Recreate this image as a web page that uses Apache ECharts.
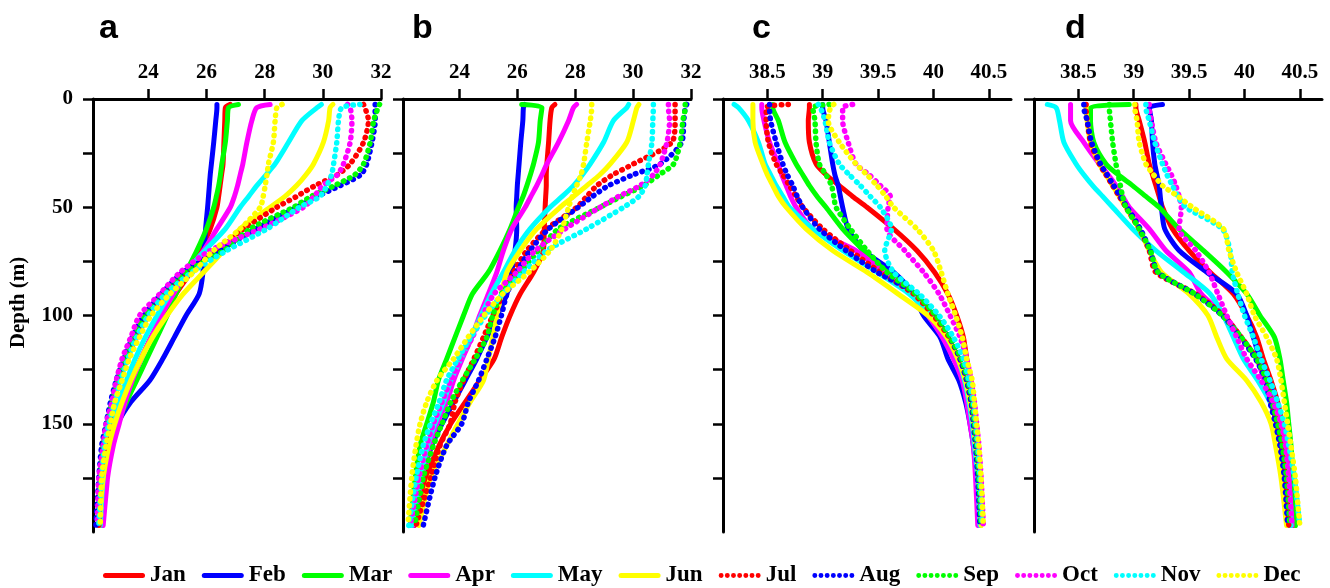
<!DOCTYPE html>
<html>
<head>
<meta charset="utf-8">
<script src="https://cdn.jsdelivr.net/npm/echarts@6.0.0/dist/echarts.min.js"></script>
<style>
  html, body { margin: 0; padding: 0; background: #fff; }
  #chart { width: 1330px; height: 588px; }
</style>
</head>
<body>
<div id="chart"></div>
<script>
// depth levels (m), the first one is the surface point
var depths = [2.5, 4, 10, 20, 30, 35, 40, 45, 50, 60, 70, 80, 90, 100, 110, 120, 130, 140, 150, 160, 175, 197];
var months = ['Jan', 'Feb', 'Mar', 'Apr', 'May', 'Jun', 'Jul', 'Aug', 'Sep', 'Oct', 'Nov', 'Dec'];
var colors = ['#ff0000', '#0000ff', '#00ff00', '#ff00ff', '#00ffff', '#ffff00'];
var tempTicks = [24, 26, 28, 30, 32];
var salTicks = [38.5, 39, 39.5, 40, 40.5];
var depthTicks = [0, 25, 50, 75, 100, 125, 150, 175];
var depthLabels = [0, 50, 100, 150];

// panel a - temperature, one row per month
var panelA = [
    [26.82, 26.65, 26.63, 26.6, 26.57, 26.52, 26.47, 26.42, 26.36, 26.13, 25.8, 25.45, 24.95, 24.5, 24.1, 23.75, 23.4, 23.1, 22.9, 22.7, 22.5, 22.35],
    [26.36, 26.36, 26.32, 26.25, 26.17, 26.13, 26.1, 26.07, 26.04, 25.97, 25.92, 25.88, 25.75, 25.3, 24.9, 24.5, 24.05, 23.4, 22.95, 22.75, 22.55, 22.4],
    [27.1, 26.76, 26.72, 26.65, 26.53, 26.48, 26.42, 26.34, 26.25, 26.0, 25.67, 25.3, 24.95, 24.65, 24.3, 23.95, 23.6, 23.25, 22.95, 22.75, 22.5, 22.35],
    [28.19, 27.73, 27.56, 27.39, 27.25, 27.16, 27.07, 26.96, 26.82, 26.36, 25.9, 25.33, 24.87, 24.45, 24.1, 23.75, 23.45, 23.2, 23.0, 22.8, 22.6, 22.45],
    [29.95, 29.8, 29.28, 28.82, 28.36, 28.05, 27.73, 27.45, 27.16, 26.65, 25.95, 25.3, 24.75, 24.3, 23.9, 23.55, 23.25, 23.0, 22.8, 22.6, 22.45, 22.35],
    [30.35, 30.25, 30.2, 30.02, 29.68, 29.42, 29.1, 28.7, 28.19, 27.16, 26.59, 25.9, 25.2, 24.64, 24.15, 23.75, 23.4, 23.1, 22.85, 22.65, 22.45, 22.3],
    [31.4, 31.45, 31.57, 31.4, 30.94, 30.5, 29.74, 29.1, 28.42, 27.28, 26.36, 25.3, 24.6, 24.0, 23.6, 23.25, 23.0, 22.8, 22.65, 22.5, 22.35, 22.3],
    [31.8, 31.8, 31.8, 31.69, 31.51, 31.3, 30.6, 29.8, 29.1, 27.7, 26.5, 25.2, 24.45, 23.85, 23.45, 23.15, 22.9, 22.7, 22.55, 22.4, 22.3, 22.2],
    [31.95, 31.9, 31.75, 31.63, 31.4, 31.1, 30.4, 29.6, 28.99, 27.5, 26.6, 25.3, 24.5, 23.9, 23.5, 23.2, 22.95, 22.75, 22.6, 22.45, 22.35, 22.3],
    [30.85, 30.94, 31.0, 30.94, 30.71, 30.5, 30.0, 29.7, 29.34, 27.85, 26.13, 25.1, 24.4, 23.7, 23.4, 23.1, 22.9, 22.75, 22.55, 22.45, 22.3, 22.25],
    [31.28, 30.65, 30.54, 30.48, 30.37, 30.3, 30.14, 29.9, 29.2, 28.08, 26.7, 25.5, 24.6, 24.0, 23.6, 23.3, 23.05, 22.85, 22.65, 22.5, 22.4, 22.3],
    [28.6, 28.42, 28.36, 28.3, 28.13, 28.08, 28.02, 27.95, 27.85, 27.16, 26.24, 25.56, 24.75, 24.1, 23.7, 23.35, 23.1, 22.85, 22.7, 22.55, 22.4, 22.35]
];

// panel b - temperature
var panelB = [
    [27.3, 27.19, 27.13, 27.08, 27.02, 27.0, 27.0, 26.98, 26.96, 26.93, 26.9, 26.56, 26.1, 25.75, 25.46, 25.2, 24.7, 24.2, 23.7, 23.3, 22.85, 22.45],
    [26.25, 26.21, 26.19, 26.12, 26.06, 26.03, 26.0, 25.98, 25.96, 25.98, 25.92, 25.8, 25.64, 25.3, 24.95, 24.6, 24.2, 23.8, 23.4, 23.05, 22.7, 22.4],
    [26.15, 26.85, 26.79, 26.73, 26.56, 26.45, 26.33, 26.2, 26.04, 25.75, 25.4, 25.0, 24.45, 24.14, 23.85, 23.56, 23.27, 23.1, 22.87, 22.64, 22.47, 22.3],
    [28.05, 27.94, 27.77, 27.42, 27.02, 26.85, 26.67, 26.47, 26.27, 25.81, 25.52, 25.29, 25.0, 24.7, 24.43, 24.1, 23.8, 23.56, 23.22, 22.99, 22.7, 22.4],
    [29.85, 29.78, 29.32, 28.98, 28.52, 28.25, 27.94, 27.55, 27.13, 26.44, 25.92, 25.52, 25.1, 24.75, 24.4, 24.05, 23.7, 23.45, 23.15, 22.9, 22.65, 22.35],
    [30.2, 30.13, 30.01, 29.78, 29.21, 28.85, 28.4, 27.95, 27.48, 26.67, 26.1, 25.64, 25.45, 25.3, 25.15, 25.0, 24.83, 24.37, 23.95, 23.56, 23.0, 22.6],
    [31.45, 31.45, 31.45, 31.34, 30.01, 29.3, 28.75, 28.4, 28.06, 27.02, 26.33, 25.87, 25.52, 25.15, 24.83, 24.5, 24.14, 23.85, 23.68, 23.33, 23.0, 22.5],
    [31.85, 31.8, 31.75, 31.68, 30.94, 30.0, 29.15, 28.6, 28.11, 27.08, 26.44, 25.98, 25.64, 25.45, 25.23, 24.95, 24.66, 24.31, 24.08, 23.56, 23.15, 22.75],
    [31.8, 31.8, 31.72, 31.63, 31.4, 30.9, 30.36, 29.6, 28.86, 27.42, 26.73, 26.1, 25.45, 25.15, 24.95, 24.55, 24.1, 23.7, 23.4, 23.1, 22.75, 22.45],
    [31.22, 31.22, 31.26, 31.17, 30.94, 30.7, 30.24, 29.5, 28.86, 27.65, 26.62, 25.98, 25.2, 24.8, 24.45, 24.05, 23.7, 23.4, 23.1, 22.87, 22.6, 22.3],
    [30.7, 30.7, 30.68, 30.65, 30.53, 30.48, 30.42, 30.2, 29.67, 28.4, 27.02, 26.21, 25.5, 24.9, 24.4, 23.95, 23.55, 23.3, 23.0, 22.75, 22.5, 22.25],
    [28.57, 28.57, 28.52, 28.4, 28.29, 28.2, 28.05, 27.9, 27.77, 27.54, 27.13, 26.4, 25.5, 24.85, 24.3, 23.8, 23.22, 22.87, 22.64, 22.5, 22.35, 22.22]
];

// panel c - salinity
var panelC = [
    [38.88, 38.88, 38.87, 38.88, 38.94, 39.03, 39.15, 39.27, 39.4, 39.64, 39.85, 40.01, 40.13, 40.21, 40.27, 40.3, 40.33, 40.35, 40.36, 40.38, 40.4, 40.42],
    [39.0, 39.0, 39.03, 39.06, 39.09, 39.11, 39.14, 39.16, 39.18, 39.23, 39.37, 39.64, 39.82, 39.91, 40.06, 40.13, 40.23, 40.29, 40.33, 40.36, 40.39, 40.41],
    [38.55, 38.55, 38.6, 38.66, 38.76, 38.82, 38.88, 38.95, 39.03, 39.18, 39.37, 39.58, 39.83, 40.0, 40.13, 40.22, 40.28, 40.32, 40.35, 40.37, 40.4, 40.42],
    [38.45, 38.45, 38.47, 38.52, 38.6, 38.63, 38.67, 38.71, 38.76, 38.91, 39.3, 39.55, 39.8, 39.95, 40.08, 40.18, 40.26, 40.3, 40.33, 40.36, 40.38, 40.4],
    [38.2, 38.24, 38.33, 38.42, 38.48, 38.53, 38.58, 38.64, 38.7, 38.91, 39.18, 39.49, 39.78, 39.97, 40.12, 40.22, 40.28, 40.32, 40.35, 40.37, 40.4, 40.42],
    [38.37, 38.37, 38.37, 38.39, 38.46, 38.5, 38.55, 38.6, 38.67, 38.85, 39.09, 39.4, 39.68, 39.95, 40.12, 40.22, 40.29, 40.33, 40.36, 40.38, 40.41, 40.43],
    [38.69, 38.49, 38.49, 38.51, 38.58, 38.64, 38.7, 38.76, 38.82, 39.0, 39.25, 39.52, 39.82, 40.0, 40.14, 40.24, 40.3, 40.34, 40.37, 40.39, 40.41, 40.43],
    [38.52, 38.52, 38.53, 38.58, 38.64, 38.68, 38.73, 38.77, 38.82, 38.97, 39.21, 39.49, 39.85, 40.03, 40.15, 40.24, 40.3, 40.34, 40.36, 40.38, 40.4, 40.42],
    [39.06, 38.91, 38.93, 38.94, 38.97, 39.03, 39.08, 39.1, 39.12, 39.25, 39.4, 39.58, 39.84, 40.02, 40.15, 40.25, 40.31, 40.35, 40.37, 40.39, 40.41, 40.43],
    [39.27, 39.18, 39.18, 39.23, 39.3, 39.42, 39.52, 39.61, 39.59, 39.58, 39.74, 39.91, 40.05, 40.15, 40.24, 40.3, 40.34, 40.37, 40.39, 40.41, 40.43, 40.45],
    [38.96, 38.98, 39.02, 39.06, 39.15, 39.24, 39.34, 39.43, 39.52, 39.62, 39.56, 39.64, 39.87, 40.05, 40.18, 40.27, 40.32, 40.36, 40.38, 40.4, 40.42, 40.44],
    [39.1, 39.07, 39.05, 39.15, 39.3, 39.4, 39.49, 39.57, 39.64, 39.85, 40.0, 40.07, 40.13, 40.2, 40.26, 40.3, 40.35, 40.37, 40.39, 40.41, 40.43, 40.45]
];

// panel d - salinity
var panelD = [
    [39.02, 39.02, 39.05, 39.1, 39.14, 39.17, 39.2, 39.23, 39.26, 39.35, 39.5, 39.69, 39.9, 40.02, 40.11, 40.17, 40.24, 40.3, 40.34, 40.37, 40.41, 40.44],
    [39.26, 39.14, 39.16, 39.17, 39.19, 39.21, 39.23, 39.24, 39.25, 39.28, 39.41, 39.66, 39.93, 40.02, 40.08, 40.14, 40.22, 40.28, 40.32, 40.35, 40.38, 40.41],
    [38.96, 38.61, 38.61, 38.64, 38.75, 38.86, 38.99, 39.11, 39.23, 39.41, 39.63, 39.84, 40.02, 40.14, 40.27, 40.32, 40.35, 40.38, 40.4, 40.42, 40.44, 40.46],
    [38.43, 38.43, 38.43, 38.55, 38.69, 38.77, 38.84, 38.9, 38.96, 39.14, 39.29, 39.5, 39.61, 39.82, 39.97, 40.11, 40.18, 40.27, 40.33, 40.37, 40.4, 40.43],
    [38.22, 38.3, 38.33, 38.37, 38.48, 38.55, 38.63, 38.72, 38.81, 38.99, 39.2, 39.45, 39.69, 39.81, 39.9, 39.99, 40.12, 40.23, 40.29, 40.33, 40.38, 40.42],
    [38.57, 38.57, 38.58, 38.61, 38.69, 38.75, 38.81, 38.87, 38.93, 39.05, 39.14, 39.25, 39.5, 39.67, 39.75, 39.84, 40.02, 40.15, 40.24, 40.28, 40.33, 40.38],
    [38.57, 38.57, 38.58, 38.61, 38.69, 38.75, 38.81, 38.87, 38.93, 39.05, 39.14, 39.2, 39.56, 39.81, 39.97, 40.11, 40.2, 40.24, 40.29, 40.33, 40.37, 40.4],
    [38.55, 38.55, 38.58, 38.62, 38.7, 38.76, 38.82, 38.88, 38.94, 39.06, 39.15, 39.22, 39.55, 39.8, 39.96, 40.1, 40.19, 40.23, 40.28, 40.32, 40.36, 40.39],
    [38.78, 38.78, 38.79, 38.81, 38.84, 38.86, 38.88, 38.9, 38.93, 39.05, 39.15, 39.22, 39.55, 39.8, 39.97, 40.11, 40.2, 40.25, 40.3, 40.34, 40.38, 40.41],
    [39.14, 39.14, 39.16, 39.2, 39.29, 39.34, 39.38, 39.41, 39.43, 39.41, 39.56, 39.68, 39.76, 39.84, 39.93, 40.02, 40.15, 40.26, 40.33, 40.37, 40.4, 40.43],
    [39.11, 39.11, 39.14, 39.19, 39.26, 39.3, 39.35, 39.4, 39.47, 39.8, 39.87, 39.89, 39.94, 40.0, 40.08, 40.15, 40.23, 40.3, 40.36, 40.4, 40.45, 40.5],
    [39.01, 39.01, 39.03, 39.05, 39.11, 39.18, 39.26, 39.4, 39.53, 39.81, 39.86, 39.93, 40.02, 40.09, 40.2, 40.29, 40.33, 40.36, 40.39, 40.42, 40.46, 40.5]
];

var panels = [panelA, panelB, panelC, panelD];
var gridLefts = [93, 403, 723, 1034];
var xRanges = [[22.1, 32], [22.05, 32], [38.1, 40.7], [38.1, 40.7]];
var letters = ['a', 'b', 'c', 'd'];
var letterX = [99, 412, 752, 1065];

var serif = 'Liberation Serif';
var axisColor = '#000';

// legend icons: thick pill for solid, row of dots for dotted
var solidIcon = 'path://M2.5,0 L39.5,0 A2.5,2.5 0 0 1 39.5,5 L2.5,5 A2.5,2.5 0 0 1 2.5,0 Z';
var dotIcon = 'path://';
for (var k = 0; k < 7; k++) {
    var cx = 3 + k * 6;
    dotIcon += 'M' + (cx - 2.4) + ',2.5 A2.4,2.4 0 1 0 ' + (cx + 2.4) + ',2.5 A2.4,2.4 0 1 0 ' + (cx - 2.4) + ',2.5 Z ';
}

var grids = [], xAxes = [], yAxes = [], series = [], graphics = [];

for (var p = 0; p < 4; p++) {
    grids.push({left: gridLefts[p], top: 99, width: 288, height: 433});

    xAxes.push({
        type: 'value',
        gridIndex: p,
        position: 'top',
        min: xRanges[p][0],
        max: xRanges[p][1],
        axisLine: {show: true, lineStyle: {color: axisColor, width: 3}},
        axisTick: {show: true, length: 10, lineStyle: {color: axisColor, width: 2.5},
            customValues: p < 2 ? tempTicks : salTicks},
        axisLabel: {show: true, margin: 16, color: '#000', fontFamily: serif, fontWeight: 'bold', fontSize: 21,
            customValues: p < 2 ? tempTicks : salTicks},
        splitLine: {show: false}
    });

    yAxes.push({
        type: 'value',
        gridIndex: p,
        inverse: true,
        min: 0,
        max: 200,
        name: p == 0 ? 'Depth (m)' : '',
        nameLocation: 'middle',
        nameGap: 64,
        nameRotate: 90,
        nameTextStyle: {color: '#000', fontFamily: serif, fontWeight: 'bold', fontSize: 21, padding: [0, 0, 0, 26]},
        axisLine: {show: true, lineStyle: {color: axisColor, width: 3}},
        axisTick: {show: true, length: 10, lineStyle: {color: axisColor, width: 2.5}, customValues: depthTicks},
        axisLabel: {show: p == 0, margin: 20, color: '#000', fontFamily: serif, fontWeight: 'bold', fontSize: 21,
            customValues: depthLabels},
        splitLine: {show: false}
    });

    for (var m = 0; m < 12; m++) {
        var row = panels[p][m];
        var pts = [];
        for (var i = 0; i < depths.length; i++) {
            pts.push([row[i], depths[i]]);
        }
        series.push({
            type: 'line',
            name: months[m],
            xAxisIndex: p,
            yAxisIndex: p,
            data: pts,
            symbol: 'none',
            smooth: 0.25,
            silent: true,
            itemStyle: {color: colors[m % 6]},
            lineStyle: {
                color: colors[m % 6],
                width: m < 6 ? 5 : 5.5,
                type: m < 6 ? 'solid' : [0.5, 6.3],
                cap: 'round',
                join: 'round'
            }
        });
    }

    graphics.push({
        type: 'text',
        left: letterX[p],
        top: 12,
        style: {text: letters[p], fontFamily: 'Liberation Sans', fontWeight: 'bold', fontSize: 34, fill: '#000'}
    });
}

var legendData = [];
for (var j = 0; j < 12; j++) {
    legendData.push({name: months[j], icon: j < 6 ? solidIcon : dotIcon, itemStyle: {color: colors[j % 6]}});
}

var chart = echarts.init(document.getElementById('chart'), null, {renderer: 'canvas'});
chart.setOption({
    animation: false,
    backgroundColor: '#fff',
    grid: grids,
    xAxis: xAxes,
    yAxis: yAxes,
    legend: {
        data: legendData,
        left: 98,
        top: 559,
        itemWidth: 42,
        itemHeight: 5,
        itemGap: 16,
        textStyle: {color: '#000', fontFamily: serif, fontWeight: 'bold', fontSize: 23}
    },
    graphic: graphics,
    series: series
});
</script>
</body>
</html>
